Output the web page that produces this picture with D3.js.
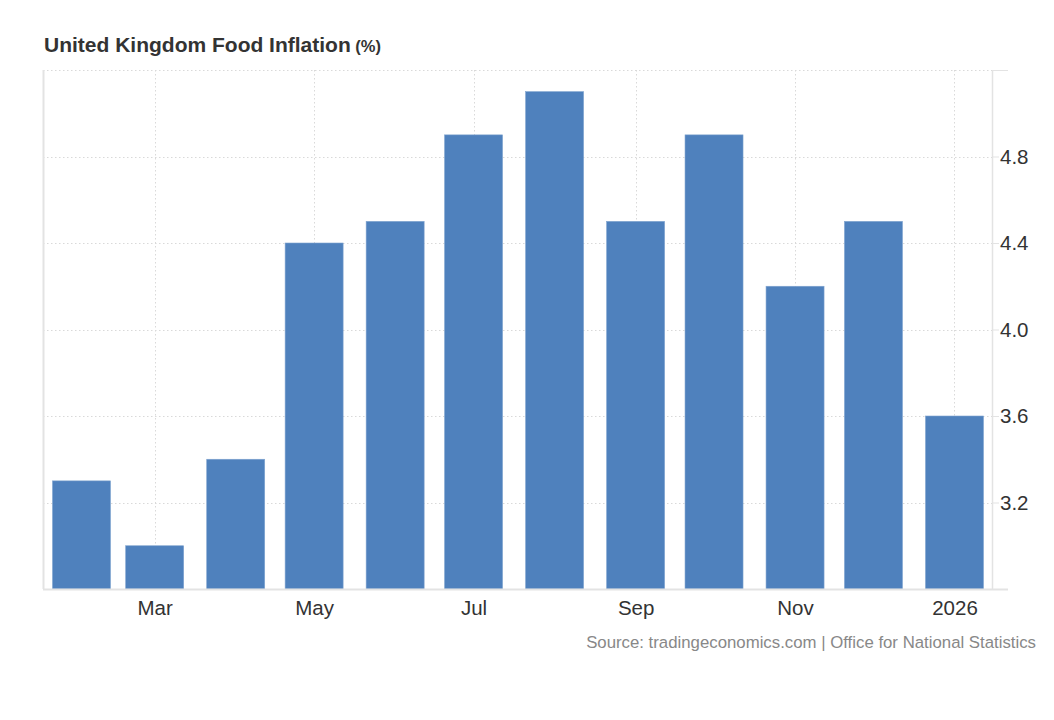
<!DOCTYPE html>
<html><head><meta charset="utf-8">
<script src="https://cdn.jsdelivr.net/npm/d3@7"></script>
<style>
html,body{margin:0;padding:0;background:#fff;}
svg{display:block;font-family:"Helvetica Neue",Helvetica,Arial,"Liberation Sans",sans-serif;}
</style></head>
<body>
<svg id="chart" width="1054" height="720"></svg>
<script>
const months = ["2025-02-01","2025-03-01","2025-04-01","2025-05-01","2025-06-01","2025-07-01","2025-08-01","2025-09-01","2025-10-01","2025-11-01","2025-12-01","2026-01-01"];
const values = [3.3, 3.0, 3.4, 4.4, 4.5, 4.9, 5.1, 4.5, 4.9, 4.2, 4.5, 3.6];
const xTickDates = ["2025-03-01","2025-05-01","2025-07-01","2025-09-01","2025-11-01","2026-01-01"];
const xTickLabels = ["Mar","May","Jul","Sep","Nov","2026"];
const yTicks = [3.2, 3.6, 4.0, 4.4, 4.8];
const yDomain = [2.8, 5.2];

const svg = d3.select("#chart");
const L = 43, R = 992, T = 70, B = 589;
const parse = d3.utcParse("%Y-%m-%d");
const dates = months.map(parse);
const day = 86400000;
const x = d3.scaleUtc()
  .domain([new Date(+dates[0] - 14.73*day), new Date(+dates[dates.length-1] + 14.35*day)])
  .range([L, R]);
const y = d3.scaleLinear().domain(yDomain).range([B, T]);

// gridlines
const grid = svg.append("g");
grid.selectAll("line.h").data(yTicks.concat([yDomain[1]])).join("line")
  .attr("x1", L).attr("x2", R)
  .attr("y1", d => Math.round(y(d)) + 0.5).attr("y2", d => Math.round(y(d)) + 0.5)
  .attr("stroke", "#d9d9d9").attr("stroke-dasharray", "1.5,2.5");
grid.selectAll("line.v").data(xTickDates.map(parse)).join("line")
  .attr("x1", d => Math.round(x(d)) + 0.5).attr("x2", d => Math.round(x(d)) + 0.5)
  .attr("y1", T).attr("y2", B)
  .attr("stroke", "#d9d9d9").attr("stroke-dasharray", "1.5,2.5");

// bars
const bw = 58;
svg.append("g").selectAll("rect").data(values).join("rect")
  .attr("x", (d, i) => x(dates[i]) - bw/2)
  .attr("width", bw)
  .attr("y", d => y(d))
  .attr("height", d => B - y(d))
  .attr("fill", "#4f81bd")
  .attr("stroke", "#7fa3cf").attr("stroke-width", 0.6);

// axis lines
svg.append("line").attr("x1", L+0.5).attr("x2", L+0.5).attr("y1", T).attr("y2", B)
  .attr("stroke", "#e3e3e3").attr("stroke-width", 2);
svg.append("line").attr("x1", R+0.5).attr("x2", R+0.5).attr("y1", T).attr("y2", B)
  .attr("stroke", "#e3e3e3").attr("stroke-width", 1.5);
svg.append("line").attr("x1", L).attr("x2", 1008).attr("y1", B+0.5).attr("y2", B+0.5)
  .attr("stroke", "#e3e3e3").attr("stroke-width", 2);

// right axis
const yAxis = d3.axisRight(y).tickValues(yTicks).tickFormat(d3.format(".1f")).tickSize(7).tickPadding(1);
const ya = svg.append("g").attr("transform", `translate(${R},0)`).call(yAxis);
ya.select(".domain").remove();
ya.selectAll(".tick line").attr("stroke", "#e3e3e3");
ya.selectAll("text").attr("fill", "#333").style("font-size", "20.5px");
svg.append("line").attr("x1", R).attr("x2", 1008).attr("y1", T+0.5).attr("y2", T+0.5).attr("stroke", "#e3e3e3");

// x axis labels
const xAxis = d3.axisBottom(x).tickValues(xTickDates.map(parse))
  .tickFormat((d, i) => xTickLabels[i]).tickSize(0).tickPadding(11);
const xa = svg.append("g").attr("transform", `translate(0,${B})`).call(xAxis);
xa.select(".domain").remove();
xa.selectAll("text").attr("fill", "#333").style("font-size", "20.5px");

// title
const title = svg.append("text").attr("x", 44).attr("y", 52).attr("fill", "#333").style("font-weight", "bold");
title.append("tspan").text("United Kingdom Food Inflation").style("font-size", "21px");
title.append("tspan").text(" (%)").style("font-size", "16.5px");

// source
svg.append("text").attr("x", 1036).attr("y", 648).attr("text-anchor", "end")
  .attr("fill", "#888").style("font-size", "16.8px")
  .text("Source: tradingeconomics.com | Office for National Statistics");
</script>
</body></html>
